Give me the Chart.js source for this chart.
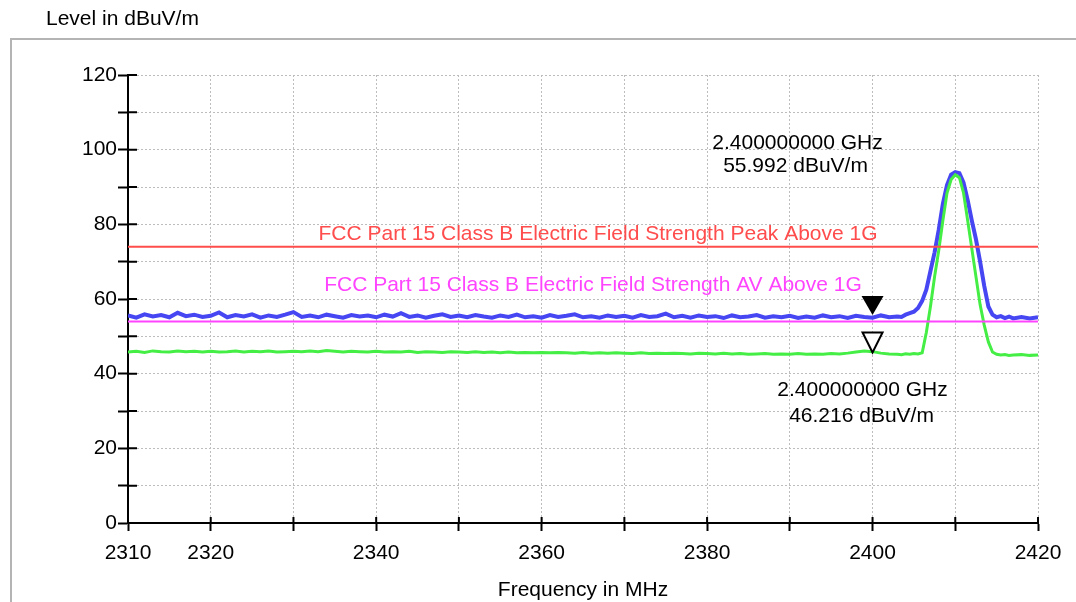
<!DOCTYPE html>
<html>
<head>
<meta charset="utf-8">
<script src="https://cdn.jsdelivr.net/npm/chart.js@4"></script>
<style>
  html, body { margin: 0; padding: 0; background: #fff; }
  #wrap { width: 1076px; height: 602px; }
</style>
</head>
<body>
<div id="wrap"><canvas id="canvas" width="1076" height="602"></canvas></div>
<script>
// frequencies in MHz (1 MHz steps on the flat part, 0.5 MHz across the carrier)
const freqs = [
  2310, 2311, 2312, 2313, 2314, 2315, 2316, 2317, 2318, 2319,
  2320, 2321, 2322, 2323, 2324, 2325, 2326, 2327, 2328, 2329,
  2330, 2331, 2332, 2333, 2334, 2335, 2336, 2337, 2338, 2339,
  2340, 2341, 2342, 2343, 2344, 2345, 2346, 2347, 2348, 2349,
  2350, 2351, 2352, 2353, 2354, 2355, 2356, 2357, 2358, 2359,
  2360, 2361, 2362, 2363, 2364, 2365, 2366, 2367, 2368, 2369,
  2370, 2371, 2372, 2373, 2374, 2375, 2376, 2377, 2378, 2379,
  2380, 2381, 2382, 2383, 2384, 2385, 2386, 2387, 2388, 2389,
  2390, 2391, 2392, 2393, 2394, 2395, 2396, 2397, 2398, 2399,
  2400, 2401, 2402, 2403,
  2403.5, 2404, 2404.5, 2405, 2405.5, 2406, 2406.5, 2407, 2407.5, 2408,
  2408.5, 2409, 2409.5, 2410, 2410.5, 2411, 2411.5, 2412, 2412.5, 2413,
  2413.5, 2414, 2414.5, 2415, 2415.5, 2416, 2416.5, 2417,
  2418, 2419, 2420
];

// peak detector trace (blue), dBuV/m
const peakTrace = [
  55.6, 55.0, 55.9, 55.3, 55.7, 55.1, 56.3, 55.4, 55.8, 55.2,
  55.5, 56.4, 55.1, 55.7, 55.3, 55.9, 55.0, 55.6, 55.2, 55.8,
  56.5, 55.2, 55.6, 55.1, 55.8, 55.4, 55.0, 55.7, 55.3, 55.6,
  55.1, 55.8, 55.3, 56.2, 55.2, 55.6, 55.0, 55.5, 55.9, 55.2,
  55.6, 55.1, 55.7, 55.3, 55.0, 55.6, 55.2, 55.8, 55.1, 55.4,
  55.0, 55.7, 55.2, 55.5, 55.9, 55.1, 55.4, 55.0, 55.6, 55.2,
  55.5, 55.0, 55.7, 55.2, 55.4, 56.1, 55.1, 55.5, 55.0, 55.6,
  55.2, 55.4, 54.9, 55.6, 55.1, 55.3, 55.7, 55.0, 55.4, 55.1,
  55.5, 54.9, 55.3, 55.0, 55.6, 55.1, 55.4, 54.9, 55.5, 55.2,
  55.0, 55.6, 55.1, 55.3,
  55.2, 55.8, 56.2, 56.6, 57.6, 59.5, 62.5, 67.5, 72.5, 78.5,
  85.5, 90.5, 93.3, 94.0, 93.7, 91.2, 86.5, 81.0, 76.0, 70.0,
  63.5, 58.0, 55.8, 55.1, 55.4, 54.9, 55.3, 54.8,
  55.2, 54.8, 55.1
];

// average detector trace (green), dBuV/m
const avgTrace = [
  45.8, 46.0, 45.7, 46.1, 45.9, 45.8, 46.1, 45.9, 46.0, 45.8,
  46.0, 45.8, 45.9, 46.1, 45.8, 46.0, 45.9, 46.1, 45.8, 45.9,
  46.0, 45.9, 46.1, 45.9, 46.2, 46.0, 45.8, 46.0, 45.9, 45.8,
  46.0, 45.8, 45.9, 45.8, 46.0, 45.7, 45.9, 45.8, 45.7, 45.9,
  45.8, 45.7, 45.9, 45.7, 45.8, 45.6, 45.8, 45.6, 45.7, 45.6,
  45.7, 45.6, 45.7, 45.6, 45.5, 45.7, 45.5, 45.6, 45.5, 45.6,
  45.5, 45.4, 45.6, 45.4, 45.5, 45.4, 45.5, 45.4, 45.3, 45.5,
  45.4, 45.3, 45.5, 45.3, 45.4, 45.2, 45.3, 45.4, 45.2, 45.3,
  45.2, 45.4, 45.2, 45.3, 45.2, 45.4, 45.3, 45.5, 45.8, 46.1,
  45.9, 45.5, 45.3, 45.2,
  45.1, 45.3, 45.2, 45.4, 45.3, 45.6, 51.0, 58.0, 66.0, 73.0,
  81.0, 88.4, 92.0, 93.3, 92.5, 88.4, 81.0, 73.5, 66.0, 58.5,
  53.0, 48.5, 45.8, 45.2, 45.0, 45.1, 44.9, 45.0,
  45.1, 44.9, 45.0
];

// limit lines
const limitFreqs = [2310, 2420];
const peakLimit = [74, 74];
const avLimit = [54, 54];
const peakLimitLabel = 'FCC Part 15 Class B Electric Field Strength Peak Above 1G';
const avLimitLabel = 'FCC Part 15 Class B Electric Field Strength AV Above 1G';

// markers
const markerFreq = 2400;
const markerPeakLevel = 55.992;
const markerAvgLevel = 46.216;
const markerPeakText = ['2.400000000 GHz', '55.992 dBuV/m'];
const markerAvgText = ['2.400000000 GHz', '46.216 dBuV/m'];

const yTitle = 'Level in dBuV/m';
const xTitle = 'Frequency in MHz';

const FONT = '"Liberation Sans", Arial, Helvetica, sans-serif';

const toXY = (xs, ys) => xs.map((x, i) => ({ x: x, y: ys[i] }));

// extra drawing: outer frame, titles, limit labels, markers, inner tick halves
const extras = {
  id: 'extras',
  beforeDraw(chart) {
    const ctx = chart.ctx;
    ctx.save();
    ctx.strokeStyle = '#b4b4b4';
    ctx.lineWidth = 2;
    ctx.beginPath();
    ctx.moveTo(1080, 39);
    ctx.lineTo(11, 39);
    ctx.lineTo(11, 610);
    ctx.stroke();
    ctx.restore();
  },
  afterDraw(chart) {
    const ctx = chart.ctx;
    const xs = chart.scales.x;
    const ys = chart.scales.y;
    const area = chart.chartArea;
    ctx.save();

    // inner halves of the tick marks
    ctx.strokeStyle = '#000';
    ctx.lineWidth = 2;
    ctx.beginPath();
    xs.ticks.forEach(t => {
      const px = xs.getPixelForValue(t.value);
      ctx.moveTo(px, area.bottom);
      ctx.lineTo(px, area.bottom - 6);
    });
    ys.ticks.forEach(t => {
      const py = ys.getPixelForValue(t.value);
      ctx.moveTo(area.left, py);
      ctx.lineTo(area.left + 9, py);
    });
    ctx.stroke();

    // titles
    ctx.fillStyle = '#000';
    ctx.font = '21px ' + FONT;
    ctx.textBaseline = 'middle';
    ctx.textAlign = 'left';
    ctx.fillText(yTitle, 46, 19);
    ctx.textAlign = 'center';
    ctx.fillText(xTitle, (area.left + area.right) / 2, 590);

    // limit line labels
    ctx.fillStyle = '#ff4c4c';
    ctx.fillText(peakLimitLabel, 598, ys.getPixelForValue(peakLimit[0]) - 13);
    ctx.fillStyle = '#ff44ff';
    ctx.fillText(avLimitLabel, 593, ys.getPixelForValue(avLimit[0]) - 36);

    // markers
    const mx = xs.getPixelForValue(markerFreq);
    const pTip = ys.getPixelForValue(markerPeakLevel) + 1;
    ctx.fillStyle = '#000';
    ctx.beginPath();
    ctx.moveTo(mx, pTip);
    ctx.lineTo(mx - 11, pTip - 19);
    ctx.lineTo(mx + 11, pTip - 19);
    ctx.closePath();
    ctx.fill();

    const aTip = ys.getPixelForValue(markerAvgLevel) + 2;
    ctx.fillStyle = '#fff';
    ctx.strokeStyle = '#000';
    ctx.lineWidth = 2;
    ctx.beginPath();
    ctx.moveTo(mx, aTip);
    ctx.lineTo(mx - 10, aTip - 20);
    ctx.lineTo(mx + 10, aTip - 20);
    ctx.closePath();
    ctx.fill();
    ctx.stroke();

    ctx.fillStyle = '#000';
    ctx.fillText(markerPeakText[0], mx - 75, 143);
    ctx.fillText(markerPeakText[1], mx - 77, 166);
    ctx.fillText(markerAvgText[0], mx - 10, 390);
    ctx.fillText(markerAvgText[1], mx - 11, 416);

    ctx.restore();
  }
};

const canvas = document.getElementById('canvas');

const chart = new Chart(canvas, {
  type: 'line',
  data: {
    datasets: [
      {
        label: 'AV limit',
        data: toXY(limitFreqs, avLimit),
        borderColor: '#ff44ff',
        borderWidth: 2,
        pointRadius: 0,
        order: 0
      },
      {
        label: 'Peak limit',
        data: toXY(limitFreqs, peakLimit),
        borderColor: '#ff4c4c',
        borderWidth: 2,
        pointRadius: 0,
        order: 1
      },
      {
        label: 'Average',
        data: toXY(freqs, avgTrace),
        borderColor: '#45ee45',
        borderWidth: 3,
        pointRadius: 0,
        order: 2
      },
      {
        label: 'Peak',
        data: toXY(freqs, peakTrace),
        borderColor: '#4646f2',
        borderWidth: 4,
        pointRadius: 0,
        order: 3
      }
    ]
  },
  options: {
    responsive: false,
    animation: false,
    events: [],
    layout: {
      padding: { top: 75, right: 38, left: 0, bottom: 0 }
    },
    plugins: {
      legend: { display: false },
      tooltip: { enabled: false },
      title: { display: false }
    },
    scales: {
      x: {
        type: 'linear',
        min: 2310,
        max: 2420,
        afterFit(scale) {
          scale.height = 79;
          scale.paddingLeft = 0;
          scale.paddingRight = 0;
        },
        border: { display: true, color: '#000', width: 2, dash: [2, 2] },
        grid: {
          color: '#bdbdbd',
          lineWidth: 1,
          tickColor: '#000',
          tickWidth: 2,
          tickLength: 8,
          tickBorderDash: []
        },
        ticks: {
          stepSize: 10,
          autoSkip: false,
          maxRotation: 0,
          padding: 10,
          color: '#000',
          font: { family: FONT, size: 21 },
          callback: (v) => (v === 2310 || v % 20 === 0) ? String(v) : ''
        }
      },
      y: {
        type: 'linear',
        min: 0,
        max: 120,
        afterFit(scale) {
          scale.width = 128;
          scale.paddingTop = 0;
          scale.paddingBottom = 0;
        },
        border: { display: true, color: '#000', width: 2, dash: [2, 2] },
        grid: {
          color: '#bdbdbd',
          lineWidth: 1,
          tickColor: '#000',
          tickWidth: 2,
          tickLength: 10,
          tickBorderDash: []
        },
        ticks: {
          stepSize: 10,
          autoSkip: false,
          padding: 1,
          color: '#000',
          font: { family: FONT, size: 21 },
          callback: (v) => v % 20 === 0 ? String(v) : ''
        }
      }
    }
  },
  plugins: [extras]
});
</script>
</body>
</html>
